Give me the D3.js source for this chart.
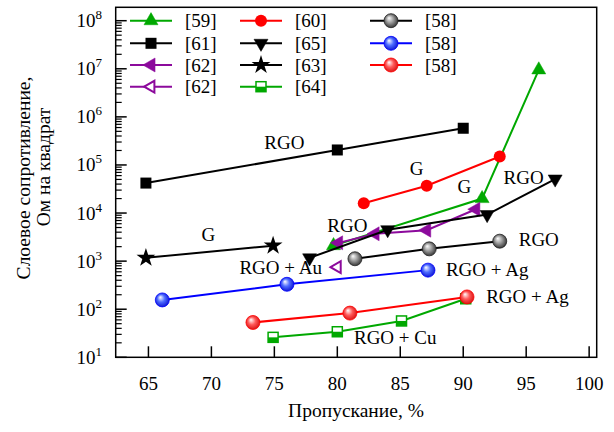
<!DOCTYPE html>
<html>
<head>
<meta charset="utf-8">
<script src="https://cdn.jsdelivr.net/npm/d3@7"></script>
<style>
body { margin: 0; background: #fff; }
text { font-family: "Liberation Serif", "Times New Roman", serif; fill: #000; }
</style>
</head>
<body>
<svg id="chart" width="614" height="432"></svg>
<script>
// data: [transmittance %, sheet resistance Ohm/sq]
var s59 = [[79.7, 2100], [91.5, 20000], [96.0, 9.5e6]];
var s61 = [[64.8, 42000], [80.0, 205000], [90.0, 580000]];
var s62 = [[80.1, 2400], [83.0, 3700], [87.1, 4400], [91.0, 12000]];
var s62open = [[80.0, 750]];
var s60 = [[82.1, 16000], [87.1, 37000], [92.9, 150000]];
var s65 = [[77.8, 1170], [84.0, 4500], [91.9, 9300], [97.3, 51000]];
var s63 = [[64.8, 1170], [74.9, 2100]];
var s64 = [[74.9, 26], [80.0, 34], [85.1, 57], [90.2, 165]];
var s58gray = [[81.4, 1120], [87.3, 1800], [92.9, 2600]];
var s58blue = [[66.1, 156], [76.0, 330], [87.2, 650]];
var s58red = [[73.3, 53], [81.0, 83], [90.3, 180]];

var xTicks = [65, 70, 75, 80, 85, 90, 95, 100];
var yTicks = [10, 100, 1000, 1e4, 1e5, 1e6, 1e7, 1e8];

var notes = [
    ["RGO", 75.8, 2.15e5], ["G", 86.3, 6.2e4], ["G", 90.1, 2.65e4],
    ["RGO", 94.8, 4.0e4], ["RGO", 80.8, 4.0e3], ["G", 69.75, 2.6e3],
    ["RGO", 96.0, 2.07e3], ["RGO + Au", 75.5, 532], ["RGO + Ag", 91.9, 498],
    ["RGO + Ag", 95.1, 137], ["RGO + Cu", 84.6, 18.6]
];

var GREEN = "#00a800", RED = "#ff0000", BLUE = "#0000ff", PURPLE = "#8c0a9c";

var series = [
    {data: s59, color: GREEN, marker: "triUp", name: "[59]", col: 0, row: 0},
    {data: s61, color: "#000", marker: "square", name: "[61]", col: 0, row: 1},
    {data: s62, color: PURPLE, marker: "triLeft", name: "[62]", col: 0, row: 2},
    {data: s62open, color: PURPLE, marker: "triLeftOpen", name: "[62]", col: 0, row: 3},
    {data: s60, color: RED, marker: "circle", name: "[60]", col: 1, row: 0},
    {data: s65, color: "#000", marker: "triDown", name: "[65]", col: 1, row: 1},
    {data: s63, color: "#000", marker: "star", name: "[63]", col: 1, row: 2},
    {data: s64, color: GREEN, marker: "halfSquare", name: "[64]", col: 1, row: 3},
    {data: s58gray, color: "#000", marker: "sphere", sphere: "gray", name: "[58]", col: 2, row: 0},
    {data: s58blue, color: BLUE, marker: "sphere", sphere: "blue", name: "[58]", col: 2, row: 1},
    {data: s58red, color: RED, marker: "sphere", sphere: "red", name: "[58]", col: 2, row: 2}
];

var svg = d3.select("#chart");
var L = 115.7, R = 596.7, T = 7.3, B = 357.3;

var x = d3.scaleLinear().domain([62.4, 100.6]).range([L, R]);
var y = d3.scaleLog().domain([10, 1.9e8]).range([B, T]);

// gradients for the shaded balls
var defs = svg.append("defs");
[["gray", "#ffffff", "#9a9a9a", "#1a1a1a"], ["blue", "#ffffff", "#4d6bff", "#0000c8"], ["red", "#ffffff", "#ff5a5a", "#d00000"]].forEach(function(g) {
    var grad = defs.append("radialGradient")
        .attr("id", "ball-" + g[0])
        .attr("cx", "0.5").attr("cy", "0.5").attr("r", "0.6")
        .attr("fx", "0.35").attr("fy", "0.3");
    grad.append("stop").attr("offset", "0").attr("stop-color", g[1]);
    grad.append("stop").attr("offset", "0.45").attr("stop-color", g[2]);
    grad.append("stop").attr("offset", "1").attr("stop-color", g[3]);
});

var plot = svg.append("g");

// y ticks: majors and log minors, pointing inward
var minors = [];
for (var e = 1; e < 9; e++) {
    for (var m = 2; m < 10; m++) {
        var v = m * Math.pow(10, e);
        if (v < 1.9e8) minors.push(v);
    }
}
plot.selectAll(".ymin").data(minors).enter().append("line")
    .attr("x1", L).attr("x2", L + 6)
    .attr("y1", function(d) { return y(d); })
    .attr("y2", function(d) { return y(d); })
    .attr("stroke", "#000").attr("stroke-width", 1.2);
plot.selectAll(".ymaj").data(yTicks).enter().append("line")
    .attr("x1", L).attr("x2", L + 11)
    .attr("y1", function(d) { return y(d); })
    .attr("y2", function(d) { return y(d); })
    .attr("stroke", "#000").attr("stroke-width", 1.5);

plot.selectAll(".xt").data(xTicks).enter().append("line")
    .attr("x1", function(d) { return x(d); })
    .attr("x2", function(d) { return x(d); })
    .attr("y1", B).attr("y2", B - 11)
    .attr("stroke", "#000").attr("stroke-width", 1.5);

// tick labels
svg.selectAll(".xl").data(xTicks).enter().append("text")
    .attr("x", function(d) { return x(d); })
    .attr("y", 389.5)
    .attr("text-anchor", "middle")
    .style("font-size", "19px")
    .text(function(d) { return d; });

var yl = svg.selectAll(".yl").data(yTicks).enter().append("text")
    .attr("x", 102)
    .attr("y", function(d) { return y(d) + 6.5; })
    .attr("text-anchor", "end")
    .style("font-size", "19px");
yl.append("tspan").text("10");
yl.append("tspan")
    .attr("dy", -8)
    .style("font-size", "13px")
    .text(function(d) { return Math.round(Math.log10(d)); });

// axis titles
svg.append("text")
    .attr("x", 356).attr("y", 417)
    .attr("text-anchor", "middle")
    .style("font-size", "19.5px")
    .text("Пропускание, %");
svg.append("text")
    .attr("transform", "translate(30,178) rotate(-90)")
    .attr("text-anchor", "middle")
    .style("font-size", "19.5px")
    .text("Слоевое сопротивление,");
svg.append("text")
    .attr("transform", "translate(50,167) rotate(-90)")
    .attr("text-anchor", "middle")
    .style("font-size", "19.5px")
    .text("Ом на квадрат");

function drawMarker(g, s, cx, cy) {
    var c = s.color;
    if (s.marker == "square") {
        g.append("rect").attr("x", cx - 5.5).attr("y", cy - 5.5)
            .attr("width", 11).attr("height", 11).attr("fill", c);
    } else if (s.marker == "halfSquare") {
        g.append("rect").attr("x", cx - 5).attr("y", cy - 5)
            .attr("width", 10).attr("height", 10)
            .attr("fill", "#fff").attr("stroke", c).attr("stroke-width", 1.5);
        g.append("rect").attr("x", cx - 5).attr("y", cy)
            .attr("width", 10).attr("height", 5).attr("fill", c);
    } else if (s.marker == "circle") {
        g.append("circle").attr("cx", cx).attr("cy", cy).attr("r", 6).attr("fill", c);
    } else if (s.marker == "sphere") {
        g.append("circle").attr("cx", cx).attr("cy", cy).attr("r", 7)
            .attr("fill", "url(#ball-" + s.sphere + ")")
            .attr("stroke", s.sphere == "gray" ? "#222" : c).attr("stroke-width", 0.8);
    } else if (s.marker == "star") {
        g.append("path").attr("d", d3.symbol().type(d3.symbolStar).size(110)())
            .attr("transform", "translate(" + cx + "," + cy + ")")
            .attr("fill", c);
    } else {
        var rot = {triUp: 0, triDown: 180, triLeft: -90, triLeftOpen: -90}[s.marker];
        var open = s.marker == "triLeftOpen";
        g.append("path").attr("d", d3.symbol().type(d3.symbolTriangle).size(open ? 60 : 85)())
            .attr("transform", "translate(" + cx + "," + cy + ") rotate(" + rot + ")")
            .attr("fill", open ? "#fff" : c)
            .attr("stroke", c).attr("stroke-width", open ? 2 : 0.5);
    }
}

var line = d3.line()
    .x(function(d) { return x(d[0]); })
    .y(function(d) { return y(d[1]); });

series.forEach(function(s) {
    var g = plot.append("g");
    if (s.data.length > 1) {
        g.append("path").attr("d", line(s.data))
            .attr("fill", "none").attr("stroke", s.color).attr("stroke-width", 2);
    }
    s.data.forEach(function(d) { drawMarker(g, s, x(d[0]), y(d[1])); });
});

// annotations placed in data units
svg.selectAll(".note").data(notes).enter().append("text")
    .attr("x", function(d) { return x(d[1]); })
    .attr("y", function(d) { return y(d[2]); })
    .attr("text-anchor", "middle")
    .style("font-size", "19px")
    .text(function(d) { return d[0]; });

// legend
var colX = [130, 240, 370], rowY = [20.7, 43.3, 65, 86.7];
series.forEach(function(s) {
    var lx = colX[s.col], ly = rowY[s.row];
    var g = svg.append("g");
    g.append("line").attr("x1", lx).attr("x2", lx + 42)
        .attr("y1", ly).attr("y2", ly)
        .attr("stroke", s.color).attr("stroke-width", 2);
    drawMarker(g, s, lx + 21, ly);
    g.append("text").attr("x", lx + 55).attr("y", ly + 6.5)
        .style("font-size", "19px")
        .text(s.name);
});

// frame
svg.append("rect")
    .attr("x", L).attr("y", T)
    .attr("width", R - L).attr("height", B - T)
    .attr("fill", "none").attr("stroke", "#000").attr("stroke-width", 1.5);
</script>
</body>
</html>
